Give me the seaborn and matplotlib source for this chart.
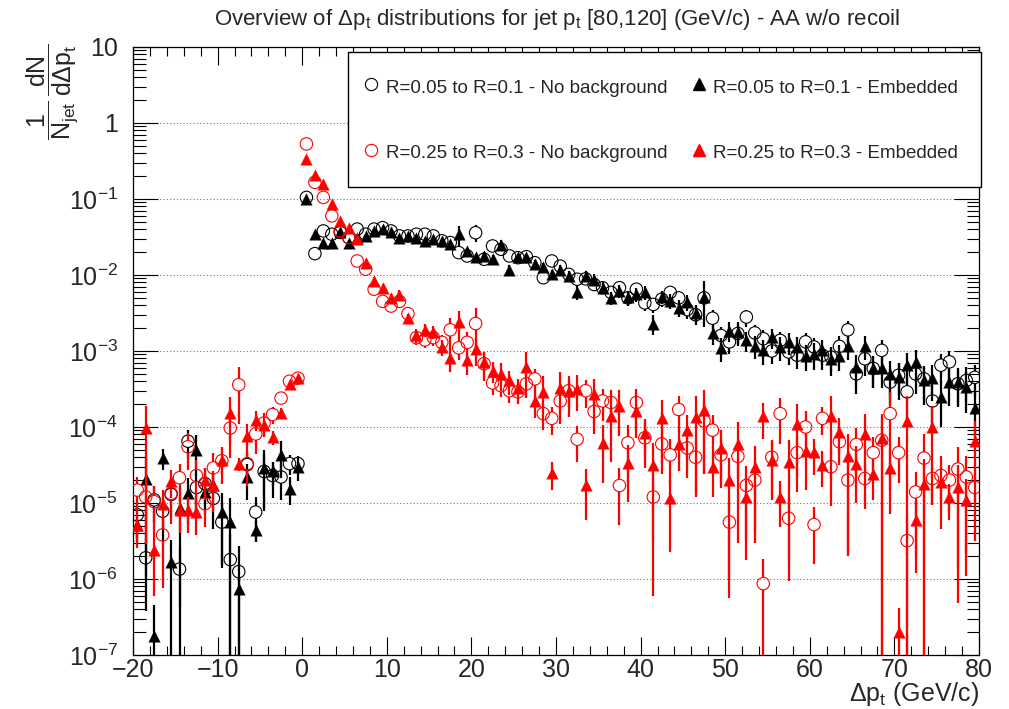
import numpy as np
import pandas as pd
import matplotlib
matplotlib.use("Agg")
import matplotlib.pyplot as plt
import seaborn as sns
from matplotlib.lines import Line2D
from matplotlib.ticker import FixedLocator, FixedFormatter, MultipleLocator, NullFormatter

# ---------------- data (bins of 1 GeV/c from -20 to 80) ----------------
bin_low, bin_high, bin_width = -20.0, 80.0, 1.0

# R=0.05 to R=0.1 - No background (black open circles)
bc_vals = [7.0e-6, 1.9e-6, 1.1e-5, 7.8e-6, 1.3e-5, 1.35e-6, 6.5e-5, 1.6e-5, 1.8e-5, 1.15e-5,
           5.6e-6, 1.8e-6, 1.25e-6, 3.2e-5, 7.6e-6, 2.6e-5, 2.3e-5, 2.2e-5, 3.3e-5, 3.3e-5,
           0.105, 0.0191, 0.038, 0.0344, 0.0363, 0.0311, 0.0402, 0.0344, 0.0402, 0.042,
           0.038, 0.0327, 0.0327, 0.0344, 0.0344, 0.0327, 0.0282, 0.0267, 0.0197, 0.0178,
           0.036, 0.0161, 0.0241, 0.0218, 0.0178, 0.0169, 0.0174, 0.0145, 0.0092, 0.0153,
           0.0131, 0.0102, 0.0088, 0.0089, 0.0075, 0.0068, 0.0059, 0.0068, 0.0050, 0.0065,
           0.0043, 0.0041, 0.0048, 0.0059, 0.0050, 0.0035, 0.0030, 0.0050, 0.0027, 0.0016,
           0.00132, 0.0017, 0.0028, 0.00173, 0.00145, 0.0010, 0.00138, 0.00097, 0.00088, 0.00132,
           0.00113, 0.00088, 0.00083, 0.00115, 0.0019, 0.0005, 0.00079, 0.00059, 0.00102, 0.00039,
           0.00048, 0.00029, 0.0005, 0.00043, 0.00022, 0.00065, 0.00072, 0.00037, 0.00041, 0.00045]
bc_rel = [0.5, 0.8, 0.5, 0.6, 0.5, 0.95, 0.4, 0.5, 0.6, 0.6, 0.75, 1.2, 1.2, 0.4, 0.6, 0.7, 0.5, 0.5, 0.3, 0.25,
          0.03, 0.15, 0.08, 0.08, 0.07, 0.08, 0.07, 0.07, 0.07, 0.07, 0.08, 0.08, 0.08, 0.08, 0.08, 0.09, 0.09, 0.1, 0.12, 0.12,
          0.25, 0.15, 0.12, 0.12, 0.13, 0.13, 0.13, 0.14, 0.15, 0.14, 0.15, 0.16, 0.17, 0.17, 0.18, 0.18, 0.2, 0.19, 0.22, 0.2,
          0.22, 0.23, 0.22, 0.2, 0.22, 0.25, 0.27, 0.22, 0.3, 0.3,
          0.3, 0.28, 0.25, 0.28, 0.3, 0.33, 0.3, 0.33, 0.35, 0.32, 0.33, 0.36, 0.37, 0.35, 0.3, 0.45, 0.4, 0.45, 0.35, 0.5,
          0.45, 0.55, 0.45, 0.48, 0.6, 0.42, 0.4, 0.5, 0.48, 0.45]

# R=0.05 to R=0.1 - Embedded (black filled triangles)
bt_vals = [5.1e-6, 2.1e-5, 1.8e-7, 3.9e-5, 1.66e-6, 8.5e-6, 1.34e-5, 5.0e-5, 1.4e-5, 1.7e-5,
           7.6e-6, 5.6e-6, 7.4e-7, 2.2e-5, 4.4e-6, 2.9e-5, 2.6e-5, 4.3e-5, 1.55e-5, 3.0e-5,
           0.1, 0.0344, 0.0267, 0.0267, 0.0363, 0.0267, 0.0311, 0.0327, 0.038, 0.040,
           0.0363, 0.0311, 0.0327, 0.0311, 0.0282, 0.0296, 0.0282, 0.0254, 0.0344, 0.0207,
           0.017, 0.0178, 0.0162, 0.025, 0.0117, 0.017, 0.017, 0.0138, 0.0126, 0.0102,
           0.0117, 0.0098, 0.0059, 0.0098, 0.0087, 0.0068, 0.0050, 0.0062, 0.0052, 0.0056,
           0.0059, 0.0023, 0.0052, 0.0046, 0.0037, 0.0044, 0.0032, 0.0052, 0.0017, 0.0011,
           0.00186, 0.00178, 0.00138, 0.00117, 0.00102, 0.00151, 0.00112, 0.00132, 0.00112, 0.00087,
           0.00091, 0.00102, 0.00079, 0.00087, 0.00117, 0.00062, 0.00117, 0.00059, 0.00059, 0.0005,
           0.00046, 0.00065, 0.00072, 0.00041, 0.00044, 0.00025, 0.00039, 0.00039, 0.00034, 0.00018]
bt_rel = [0.4, 0.95, 1.5, 0.3, 0.95, 0.95, 0.6, 0.55, 0.3, 0.5, 0.8, 1.1, 1.1, 0.5, 0.3, 0.7, 0.35, 0.5, 0.4, 0.35,
          0.03, 0.08, 0.07, 0.07, 0.06, 0.07, 0.06, 0.06, 0.06, 0.06, 0.06, 0.07, 0.07, 0.07, 0.08, 0.08, 0.08, 0.09, 0.3, 0.1,
          0.12, 0.12, 0.12, 0.15, 0.14, 0.12, 0.12, 0.14, 0.14, 0.15, 0.15, 0.16, 0.2, 0.16, 0.17, 0.18, 0.2, 0.2, 0.2, 0.2,
          0.2, 0.3, 0.2, 0.22, 0.25, 0.23, 0.26, 0.6, 0.3, 0.35,
          0.3, 0.35, 0.3, 0.33, 0.35, 0.3, 0.35, 0.32, 0.35, 0.38, 0.38, 0.36, 0.4, 0.38, 0.35, 0.45, 0.35, 0.45, 0.45, 0.48,
          0.5, 0.45, 0.45, 0.52, 0.5, 0.6, 0.52, 0.52, 0.55, 0.7]

# R=0.25 to R=0.3 - No background (red open circles)
rc_vals = [1.48e-5, 1.2e-5, 1.04e-5, 3.8e-6, 1.34e-5, 2.15e-5, 5.5e-5, 2.3e-5, 9.8e-6, 2.9e-5,
           3.6e-5, 9.7e-5, 3.6e-4, 3.3e-5, 8.1e-5, 1.13e-4, 1.46e-4, 2.4e-4, 4.0e-4, 4.4e-4,
           0.53, 0.166, 0.105, 0.06, 0.038, 0.031, 0.0153, 0.0119, 0.0065, 0.0045,
           0.0039, 0.0045, 0.0031, 0.0015, 0.0014, 0.0015, 0.0013, 0.0019, 0.0011, 0.0013,
           2.3e-3, 6.8e-4, 3.8e-4, 3.5e-4, 3.0e-4, 2.9e-4, 3.7e-4, 4.3e-4, 1.5e-4, 1.3e-4,
           2.2e-4, 3.0e-4, 6.9e-5, 3.0e-4, 1.6e-4, 2.2e-4, 2.1e-4, 1.7e-5, 6.2e-5, 2.1e-4,
           7.2e-5, 1.2e-5, 6.0e-5, 4.3e-5, 1.7e-4, 5.3e-5, 4.0e-5, 1.2e-4, 9.1e-5, 4.3e-5,
           5.6e-6, 4.1e-5, 1.7e-5, 2.0e-5, 8.7e-7, 4.0e-5, 1.5e-4, 6.3e-6, 4.6e-5, 1.0e-4,
           5.2e-6, 1.3e-4, 3.0e-5, 6.4e-5, 2.0e-5, 5.9e-5, 2.1e-5, 4.6e-5, 6.7e-5, 1.5e-4,
           4.6e-5, 3.2e-6, 1.4e-5, 3.9e-5, 2.1e-5, 2.3e-5, 2.0e-5, 2.8e-5, 2.2e-5, 1.6e-5]
rc_rel = [0.5, 0.7, 0.6, 0.8, 0.6, 0.5, 0.5, 0.6, 0.5, 0.55, 0.5, 0.6, 0.7, 0.5, 0.45, 0.35, 0.25, 0.15, 0.12, 0.1,
          0.02, 0.04, 0.05, 0.06, 0.08, 0.08, 0.1, 0.1, 0.12, 0.14, 0.15, 0.15, 0.18, 0.2, 0.22, 0.22, 0.25, 0.45, 0.3, 0.35,
          0.6, 0.4, 0.3, 0.3, 0.3, 0.3, 0.35, 0.35, 0.4, 0.4, 0.5, 0.4, 0.5, 0.4, 0.5, 0.45, 0.45, 0.7, 0.7, 0.5,
          0.6, 0.95, 0.6, 0.6, 0.5, 0.6, 0.7, 0.8, 0.6, 0.6, 0.9,
          0.5, 0.8, 0.8, 1.1, 0.7, 0.6, 0.85, 0.7, 0.6, 0.7, 0.4, 0.7, 0.5, 0.9, 0.65, 0.6, 0.6, 1.1, 0.9, 0.6,
          1.1, 0.85, 1.05, 0.55, 0.8, 0.6, 0.95, 0.9, 0.8]

# R=0.25 to R=0.3 - Embedded (red filled triangles)
rt_vals = [5.1e-6, 9.7e-5, 2.4e-6, 9.8e-6, 1.95e-5, 8.0e-6, 8.0e-6, 7.6e-6, 2.0e-5, 1.7e-5,
           3.7e-5, 1.53e-4, 3.3e-5, 7.5e-5, 1.25e-4, 1.05e-4, 7.3e-5, 1.53e-4, 3.7e-4, 4.4e-4,
           0.34, 0.21, 0.158, 0.086, 0.052, 0.042, 0.0296, 0.0146, 0.0083, 0.0068,
           0.0050, 0.0055, 0.0027, 0.0016, 0.0019, 0.0018, 0.00113, 0.00082, 0.0024, 0.00075,
           1.07e-3, 7.1e-4, 5.5e-4, 5.0e-4, 4.1e-4, 3.3e-4, 6.1e-4, 2.2e-4, 2.9e-4, 2.5e-5,
           3.3e-4, 3.0e-4, 3.2e-4, 1.7e-5, 2.7e-4, 6.2e-5, 1.4e-4, 1.9e-4, 3.4e-5, 1.6e-4,
           8.4e-5, 3.2e-5, 1.3e-4, 1.15e-5, 5.9e-5, 9.0e-5, 1.35e-4, 1.65e-4, 3.0e-5, 5.3e-5,
           2.0e-5, 5.9e-5, 1.2e-5, 3.0e-5, 1.4e-4, 3.7e-5, 1.2e-5, 3.5e-5, 1.1e-4, 4.9e-5,
           4.7e-5, 3.2e-5, 1.4e-4, 8.7e-5, 4.1e-5, 3.3e-5, 8.2e-5, 2.4e-5, 7.1e-5, 2.9e-5,
           2.0e-7, 1.2e-4, 6.0e-6, 1.8e-5, 1.0e-4, 1.9e-5, 1.2e-5, 1.6e-5, 1.1e-5, 6.5e-5]
rt_rel = [0.5, 0.97, 0.75, 0.5, 0.4, 0.5, 0.5, 0.5, 0.45, 0.55, 0.35, 0.6, 0.2, 0.45, 0.3, 0.3, 0.2, 0.15, 0.1, 0.08,
          0.02, 0.03, 0.04, 0.05, 0.06, 0.07, 0.08, 0.1, 0.12, 0.12, 0.14, 0.15, 0.15, 0.2, 0.2, 0.2, 0.25, 0.35, 0.4, 0.35,
          0.4, 0.35, 0.3, 0.4, 0.35, 0.3, 0.6, 0.4, 0.6, 0.4, 0.6, 0.55, 0.5, 0.65, 0.6, 0.7, 0.75, 0.6, 0.7, 0.55,
          0.5, 0.9, 0.75, 0.8, 0.55, 0.6, 0.9, 0.85, 0.6, 0.7, 0.95,
          0.95, 0.85, 0.9, 0.5, 0.7, 0.6, 0.95, 0.8, 0.7, 0.5, 0.5, 0.85, 0.5, 0.95, 0.7, 0.8, 0.55, 1.1, 0.75, 1.05,
          1.1, 0.8, 1.1, 0.9, 0.55, 0.5, 0.97, 0.9, 0.85]

labels = ["R=0.05 to R=0.1 - No background", "R=0.05 to R=0.1 - Embedded",
          "R=0.25 to R=0.3 - No background", "R=0.25 to R=0.3 - Embedded"]
y_ticks = [1e-7, 1e-6, 1e-5, 1e-4, 1e-3, 1e-2, 1e-1, 1, 10]
y_ticklabels = [r"$10^{-7}$", r"$10^{-6}$", r"$10^{-5}$", r"$10^{-4}$", r"$10^{-3}$",
                r"$10^{-2}$", r"$10^{-1}$", "1", "10"]
x_ticks = [-20, -10, 0, 10, 20, 30, 40, 50, 60, 70, 80]
x_ticklabels = ["\u221220", "\u221210", "0", "10", "20", "30", "40", "50", "60", "70", "80"]
title = r"Overview of $\Delta$p$_{t}$ distributions for jet p$_{t}$ [80,120] (GeV/c) - AA w/o recoil"

# ---------------- style ----------------
sns.set_style("ticks")
plt.rcParams["font.family"] = ["Liberation Sans", "DejaVu Sans"]
plt.rcParams["mathtext.fontset"] = "custom"
plt.rcParams["mathtext.rm"] = "Liberation Sans"
plt.rcParams["mathtext.it"] = "Liberation Sans:italic"
plt.rcParams["mathtext.bf"] = "Liberation Sans:bold"
plt.rcParams["mathtext.sf"] = "Liberation Sans"
plt.rcParams["mathtext.default"] = "regular"

W, H = 1009, 709
fig = plt.figure(figsize=(W / 100, H / 100), dpi=100)
ax_l, ax_r, ax_t, ax_b = 133, 979, 47, 655
ax = fig.add_axes([ax_l / W, 1 - ax_b / H, (ax_r - ax_l) / W, (ax_b - ax_t) / H])
ax.set_yscale("log")
ax.set_xlim(bin_low, bin_high)
ax.set_ylim(1e-7, 10)

n_bins = int(round((bin_high - bin_low) / bin_width))
x_centers = bin_low + bin_width * (np.arange(n_bins) + 0.5)

px_per_decade = (ax_b - ax_t) / 8.0
circle_gap = 6.0 / px_per_decade  # marker radius in decades


def draw_series(vals, rel, color, marker, gap, z, hollow):
    v = np.asarray(vals, dtype=float)
    e = v * np.asarray(rel, dtype=float)
    hi = v + e
    lo = np.where(v - e > 0, v - e, 1e-12)
    up0 = v * 10 ** gap
    dn0 = v / 10 ** gap
    m = hi > up0
    ax.vlines(x_centers[m], up0[m], hi[m], colors=color, lw=1.6, zorder=z)
    m = lo < dn0
    ax.vlines(x_centers[m], lo[m], dn0[m], colors=color, lw=1.6, zorder=z)
    df = pd.DataFrame({"x": x_centers, "y": v})
    if hollow:
        sns.scatterplot(data=df, x="x", y="y", marker=marker, s=80, facecolors="none",
                        edgecolor=color, linewidth=0.8, ax=ax, zorder=z + 0.1, legend=False)
    else:
        sns.scatterplot(data=df, x="x", y="y", marker=marker, s=70, color=color,
                        edgecolor=color, linewidth=0.2, ax=ax, zorder=z + 0.1, legend=False)


draw_series(bc_vals, bc_rel, "black", "o", circle_gap, 3, True)
draw_series(bt_vals, bt_rel, "black", "^", 0.0, 4, False)
draw_series(rc_vals, rc_rel, "red", "o", circle_gap, 5, True)
draw_series(rt_vals, rt_rel, "red", "^", 0.0, 6, False)

ax.set_xlabel("")
ax.set_ylabel("")

# ticks
ax.xaxis.set_major_locator(FixedLocator(x_ticks))
ax.xaxis.set_major_formatter(FixedFormatter(x_ticklabels))
ax.xaxis.set_minor_locator(MultipleLocator(2))
ax.yaxis.set_major_locator(FixedLocator(y_ticks))
ax.yaxis.set_major_formatter(FixedFormatter(y_ticklabels))
minor_y = [m * 10.0 ** k for k in range(-7, 1) for m in range(2, 10)]
ax.yaxis.set_minor_locator(FixedLocator(minor_y))
ax.yaxis.set_minor_formatter(NullFormatter())
ax.tick_params(axis="both", which="both", direction="in", top=True, right=True,
               color="black", width=0.8)
ax.tick_params(axis="x", which="major", length=13, pad=2, labelsize=18)
ax.tick_params(axis="x", which="minor", length=6.5)
ax.tick_params(axis="y", which="major", length=18, pad=11, labelsize=18)
ax.tick_params(axis="y", which="minor", length=9)
for s in ax.spines.values():
    s.set_color("black")
    s.set_linewidth(0.9)

ax.set_axisbelow(True)
ax.yaxis.grid(True, which="major", linestyle=(0, (1, 2)), color="#777777", lw=0.8)
ax.xaxis.grid(False)

# legend
handles = [
    Line2D([], [], ls="none", marker="o", mfc="none", mec="black", mew=0.8, ms=8.8),
    Line2D([], [], ls="none", marker="o", mfc="none", mec="red", mew=0.8, ms=8.8),
    Line2D([], [], ls="none", marker="^", color="black", ms=8.0),
    Line2D([], [], ls="none", marker="^", color="red", ms=8.0),
]
leg_labels = [labels[0], labels[2], labels[1], labels[3]]
leg = ax.legend(handles, leg_labels, ncol=2, loc="upper left",
                bbox_to_anchor=((348 - ax_l) / (ax_r - ax_l), (ax_b - 52) / (ax_b - ax_t)),
                fontsize=13.5, frameon=True, fancybox=False, shadow=False, framealpha=1,
                edgecolor="black", borderpad=1.25, handlelength=0.0, handleheight=1.5,
                handletextpad=0.75, labelspacing=2.27, columnspacing=1.7, borderaxespad=0)
leg.get_frame().set_linewidth(1.0)
leg.set_zorder(10)

# texts
fig.text(557 / W, 1 - 19 / H, title, ha="center", va="center", fontsize=16)
fig.text(979 / W, 1 - 701 / H, r"$\Delta$p$_{t}$ (GeV/c)", ha="right", va="baseline", fontsize=18)
fig.text(52 / W, 1 - 92 / H,
         r"$\dfrac{1}{N_{jet}}\,\dfrac{dN}{d\Delta p_{t}}$",
         ha="center", va="center", rotation=90, fontsize=18)

fig.savefig("out.png", dpi=100, facecolor="white")
